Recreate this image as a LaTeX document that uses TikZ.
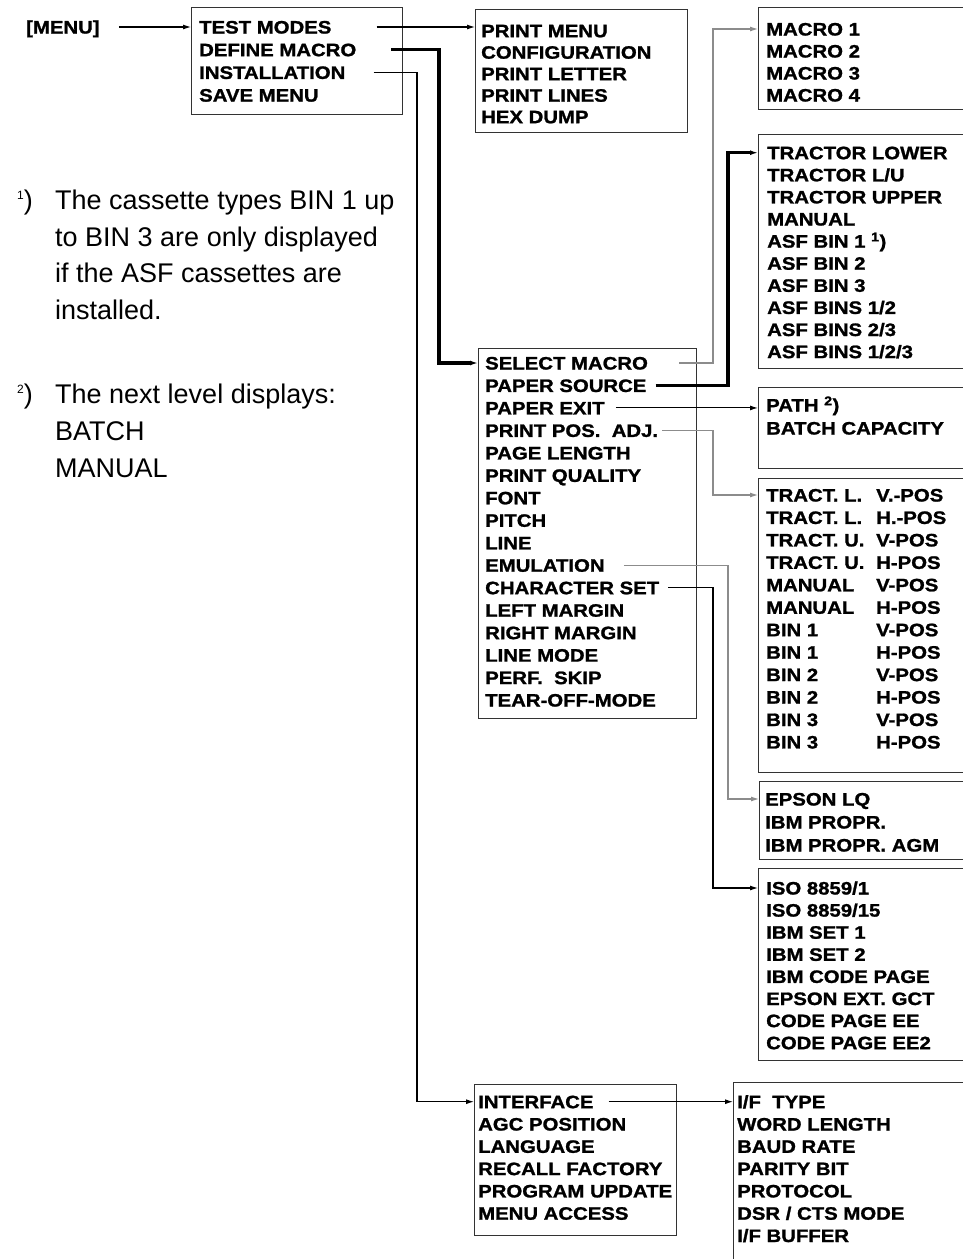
\documentclass[tikz,border=0pt]{standalone}
\usepackage{fontspec}
\setmainfont{Liberation Sans}
\newfontfamily\menufont{Liberation Sans}[FakeStretch=1.13,FakeBold=1.3]
\usetikzlibrary{arrows.meta}

\newcommand{\twocol}[2]{\makebox[110pt][l]{#1}#2}
\newcommand{\notemark}[1]{\raisebox{10pt}{\fontsize{12}{12}\selectfont #1})}

\begin{document}
\begin{tikzpicture}[x=1pt,y=-1pt,
      >={Latex[length=8pt,width=5pt]},
      box/.style={draw=black!80,line width=1.4pt,anchor=north west,inner sep=0},
      item/.style={anchor=west,inner sep=0,text height=13pt,text depth=0pt,
        font=\menufont\bfseries\fontsize{18}{22}\selectfont},
      note/.style={anchor=base west,inner sep=0,font=\fontsize{27}{36}\selectfont},
      link/.style={->,line width=1.1pt},
      greylink/.style={->,line width=1.1pt,draw=black!45},
      boldlink/.style={->,line width=3.2pt}
      ]

      \path[use as bounding box,fill=white] (0,0) rectangle (963,1259);
      \clip (0,0) rectangle (963,1259);

      %boxes
      \node[box,minimum width=211pt,minimum height=107pt] (mainbox) at (191,7) {};
      \node[box,minimum width=212pt,minimum height=123pt] (testbox) at (475,9) {};
      \node[box,minimum width=220pt,minimum height=102pt] (macrobox) at (758,7) {};
      \node[box,minimum width=220pt,minimum height=234pt] (sourcebox) at (758,134) {};
      \node[box,minimum width=220pt,minimum height=81pt] (exitbox) at (758,387) {};
      \node[box,minimum width=220pt,minimum height=294pt] (adjbox) at (758,478) {};
      \node[box,minimum width=220pt,minimum height=78pt] (emulbox) at (759,781) {};
      \node[box,minimum width=220pt,minimum height=192pt] (charbox) at (758,868) {};
      \node[box,minimum width=218pt,minimum height=370pt] (setupbox) at (478,348) {};
      \node[box,minimum width=202pt,minimum height=151pt] (instbox) at (474,1084) {};
      \node[box,minimum width=240pt,minimum height=200pt] (ifbox) at (733,1082) {};

      %menu entries
      \node[item] (menu) at (26,27) {[MENU]};
      \foreach \txt [count=\k] in {TEST MODES, DEFINE MACRO, INSTALLATION, SAVE MENU}
        \node[item] (main\k) at (199,{27+22.7*(\k-1)}) {\txt};
      \foreach \txt [count=\k] in {PRINT MENU, CONFIGURATION, PRINT LETTER, PRINT LINES, HEX DUMP}
        \node[item] (test\k) at (481,{30.7+21.5*(\k-1)}) {\txt};
      \foreach \txt [count=\k] in {MACRO 1, MACRO 2, MACRO 3, MACRO 4}
        \node[item] (macro\k) at (766,{29+22*(\k-1)}) {\txt};
      \foreach \txt [count=\k] in {TRACTOR LOWER, TRACTOR L/U, TRACTOR UPPER, MANUAL,
          ASF BIN 1 \textsuperscript{1}), ASF BIN 2, ASF BIN 3, ASF BINS 1/2, ASF BINS 2/3, ASF BINS 1/2/3}
        \node[item] (source\k) at (767,{152.7+22.1*(\k-1)}) {\txt};
      \foreach \txt [count=\k] in {PATH \textsuperscript{2}), BATCH CAPACITY}
        \node[item] (exit\k) at (766,{405+23*(\k-1)}) {\txt};
      \foreach \txt [count=\k] in {\twocol{TRACT. L.}{V.-POS}, \twocol{TRACT. L.}{H.-POS},
          \twocol{TRACT. U.}{V-POS}, \twocol{TRACT. U.}{H-POS},
          \twocol{MANUAL}{V-POS}, \twocol{MANUAL}{H-POS},
          \twocol{BIN 1}{V-POS}, \twocol{BIN 1}{H-POS},
          \twocol{BIN 2}{V-POS}, \twocol{BIN 2}{H-POS},
          \twocol{BIN 3}{V-POS}, \twocol{BIN 3}{H-POS}}
        \node[item] (adj\k) at (766,{495+22.45*(\k-1)}) {\txt};
      \foreach \txt [count=\k] in {EPSON LQ, IBM PROPR., IBM PROPR. AGM}
        \node[item] (emul\k) at (765,{799+23*(\k-1)}) {\txt};
      \foreach \txt [count=\k] in {ISO 8859/1, ISO 8859/15, IBM SET 1, IBM SET 2,
          IBM CODE PAGE, EPSON EXT. GCT, CODE PAGE EE, CODE PAGE EE2}
        \node[item] (char\k) at (766,{888+22.1*(\k-1)}) {\txt};
      \foreach \txt [count=\k] in {SELECT MACRO, PAPER SOURCE, PAPER EXIT, PRINT POS.\ \ ADJ.,
          PAGE LENGTH, PRINT QUALITY, FONT, PITCH, LINE, EMULATION, CHARACTER SET,
          LEFT MARGIN, RIGHT MARGIN, LINE MODE, PERF.\ \ SKIP, TEAR-OFF-MODE}
        \node[item] (setup\k) at (485,{363+22.47*(\k-1)}) {\txt};
      \foreach \txt [count=\k] in {INTERFACE, AGC POSITION, LANGUAGE, RECALL FACTORY,
          PROGRAM UPDATE, MENU ACCESS}
        \node[item] (inst\k) at (478,{1101.7+22.3*(\k-1)}) {\txt};
      \foreach \txt [count=\k] in {I/F\ \ TYPE, WORD LENGTH, BAUD RATE, PARITY BIT,
          PROTOCOL, DSR / CTS MODE, I/F BUFFER}
        \node[item] (ifs\k) at (737,{1101.7+22.3*(\k-1)}) {\txt};

      %footnotes
      \node[note,anchor=base east] (mark1) at (33,209.5) {\notemark{1}};
      \foreach \txt [count=\k] in {The cassette types BIN 1 up, to BIN 3 are only displayed,
          if the ASF cassettes are, installed.}
        \node[note] (noteA\k) at (55,{209.5+36.7*(\k-1)}) {\txt};
      \node[note,anchor=base east] (mark2) at (33,403) {\notemark{2}};
      \foreach \txt [count=\k] in {The next level displays:, BATCH, MANUAL}
        \node[note] (noteB\k) at (55,{403+37.3*(\k-1)}) {\txt};

      %bend columns
      \coordinate (instx) at (417,0);
      \coordinate (defx) at (439,0);
      \coordinate (nearx) at (713,0);
      \coordinate (farx) at (728,0);

      %first level edges
      \draw[link] ([xshift=19pt]menu.east) -- (mainbox.west |- menu.east);
      \draw[link] ([xshift=45pt]main1.east) -- (testbox.west |- main1);
      \draw[boldlink] ([xshift=35pt]main2.east) -| (defx |- setup1) -- (setupbox.west |- setup1);
      \draw[link] ([xshift=28pt]main3.east) -| (instx |- inst1) -- (instbox.west |- inst1);

      %second level edges
      \draw[greylink] ([xshift=31pt]setup1.east) -| (nearx |- macro1) -- (macrobox.west |- macro1);
      \draw[boldlink] ([xshift=9pt]setup2.east) -| (farx |- source1) -- (sourcebox.west |- source1);
      \draw[link] ([xshift=11pt]setup3.east) -- (exitbox.west |- setup3);
      \draw[greylink] ([xshift=4pt]setup4.east) -| (nearx |- adj1) -- (adjbox.west |- adj1);
      \draw[greylink] ([xshift=19pt]setup10.east) -| (farx |- emul1) -- (emulbox.west |- emul1);
      \draw[link] ([xshift=9pt]setup11.east) -| (nearx |- char1) -- (charbox.west |- char1);
      \draw[link] ([xshift=15pt]inst1.east) -- (ifbox.west |- inst1);
\end{tikzpicture}
\end{document}
